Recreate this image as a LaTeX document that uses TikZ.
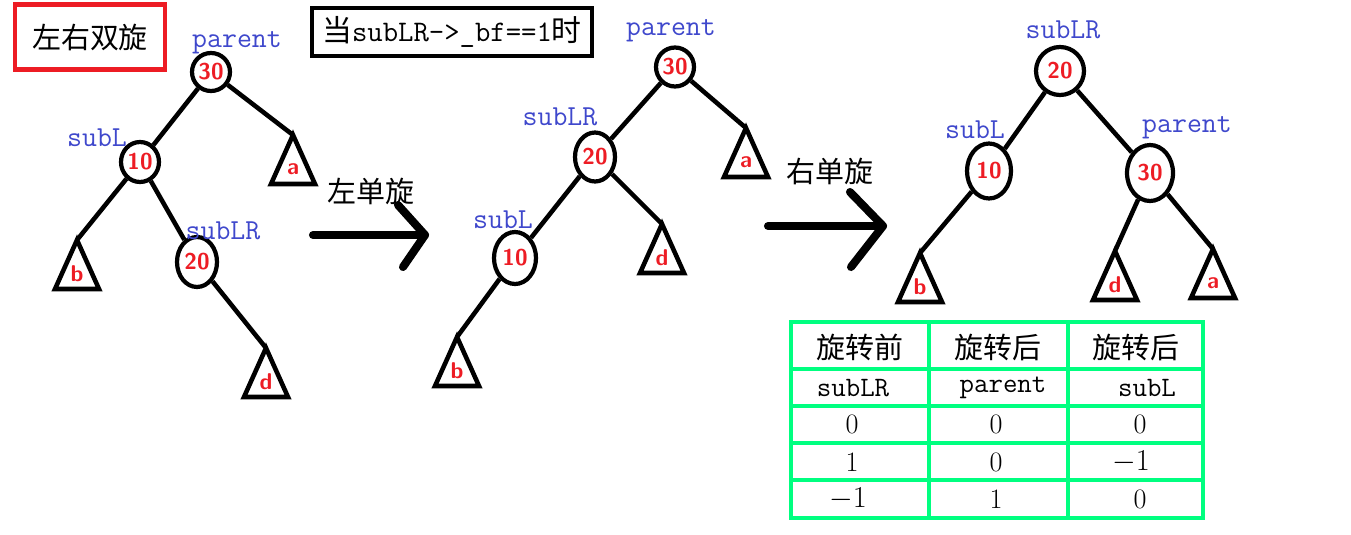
\documentclass[tikz,border=0pt]{standalone}
\usepackage{fontspec}
\newfontfamily\cjk{Noto Sans CJK SC}
\usetikzlibrary{shapes.geometric, calc}
\definecolor{mspred}{RGB}{237,28,36}
\definecolor{lblblue}{RGB}{63,72,204}
\definecolor{tabgreen}{RGB}{0,255,128}
\tikzset{
  treeline/.style={line width=2.6pt},
  tnode/.style={draw, ellipse, line width=2.4pt, inner sep=0pt},
  hand/.style={text=mspred, font=\sffamily\bfseries\fontsize{13}{13}\selectfont},
  role/.style={text=lblblue, font=\ttfamily\fontsize{16.5}{17}\selectfont},
  cn/.style={font=\cjk\fontsize{16.5}{18}\selectfont},
  bigarrow/.style={line width=4.6pt, line cap=round, line join=round},
  cell/.style={font=\fontsize{16}{17}\selectfont},
  tabline/.style={tabgreen, line width=2.4pt},
}
% subtree triangle: name, apex x, apex y, label
\newcommand{\subtr}[4]{%
  \coordinate (#1) at (#2,#3);
  \draw[treeline, line join=miter] (#1) -- ++(-22,49) -- ++(44,0) -- cycle;
  \node[hand] (#1l) at (#2,#3+34) {#4};
}

\begin{document}
\begin{tikzpicture}[x=0.02cm, y=-0.02cm]
\useasboundingbox (0,0) rectangle (1351,534);
\node[cn, draw=mspred, line width=2.4pt, minimum width=3cm, minimum height=1.3cm] (title) at (90,37) {左右双旋};
\node[draw, line width=2.8pt, minimum width=5.6cm, minimum height=0.96cm, font=\fontsize{17}{18}\selectfont] (cond) at (452,32) {{\cjk 当}\ttfamily subLR->\_bf==1{\cjk 时}};

% before
\node[tnode, hand, minimum width=0.76cm, minimum height=0.76cm] (p1) at (211,72) {30};
\node[tnode, hand, minimum width=0.76cm, minimum height=0.8cm] (l1) at (140,162) {10};
\node[tnode, hand, minimum width=0.8cm, minimum height=1cm] (lr1) at (197,262) {20};
\subtr{ta1}{293}{135}{a}
\subtr{tb1}{77}{240}{b}
\subtr{td1}{266}{348}{d}
\node[role] (np1) at (237,43) {parent};
\node[role] (nl1) at (97,138) {subL};
\node[role] (nlr1) at (223,231) {subLR};
\draw[treeline] (p1) -- (l1);
\draw[treeline] (p1) -- (ta1);
\draw[treeline] (l1) -- (tb1);
\draw[treeline] (l1) -- (lr1);
\draw[treeline] (lr1) -- (td1);

% left rotation
\coordinate (r1s) at (313,235);
\coordinate (r1e) at (425,235);
\draw[bigarrow] (r1s) -- (r1e);
\draw[bigarrow] ($(r1e)+(-27,-30)$) -- (r1e) -- ($(r1e)+(-22,32)$);
\node[cn] (rot1) at (371,191) {左单旋};

% after left rotation
\node[tnode, hand, minimum width=0.76cm, minimum height=0.78cm] (p2) at (675,67) {30};
\node[tnode, hand, minimum width=0.8cm, minimum height=0.98cm] (lr2) at (595,157) {20};
\node[tnode, hand, minimum width=0.84cm, minimum height=1.04cm] (l2) at (515,258) {10};
\subtr{ta2}{746}{128}{a}
\subtr{td2}{662}{224}{d}
\subtr{tb2}{457}{337}{b}
\node[role] (np2) at (671,31) {parent};
\node[role] (nlr2) at (560,117) {subLR};
\node[role] (nl2) at (503,220) {subL};
\draw[treeline] (p2) -- (lr2);
\draw[treeline] (p2) -- (ta2);
\draw[treeline] (lr2) -- (l2);
\draw[treeline] (lr2) -- (td2);
\draw[treeline] (l2) -- (tb2);

% right rotation
\coordinate (r2s) at (768,226);
\coordinate (r2e) at (883,226);
\draw[bigarrow] (r2s) -- (r2e);
\draw[bigarrow] ($(r2e)+(-33,-34)$) -- (r2e) -- ($(r2e)+(-32,41)$);
\node[cn] (rot2) at (830,171) {右单旋};

% after right rotation
\node[tnode, hand, minimum width=0.96cm, minimum height=0.96cm] (lr3) at (1060,71) {20};
\node[tnode, hand, minimum width=0.88cm, minimum height=1.1cm] (l3) at (989,171) {10};
\node[tnode, hand, minimum width=0.92cm, minimum height=1.12cm] (p3) at (1150,173) {30};
\subtr{tb3}{920}{253}{b}
\subtr{td3}{1115}{251}{d}
\subtr{ta3}{1213}{249}{a}
\node[role] (nlr3) at (1063,30) {subLR};
\node[role] (nl3) at (975,130) {subL};
\node[role] (np3) at (1187,128) {parent};
\draw[treeline] (lr3) -- (l3);
\draw[treeline] (lr3) -- (p3);
\draw[treeline] (l3) -- (tb3);
\draw[treeline] (p3) -- (td3);
\draw[treeline] (p3) -- (ta3);

% balance factor table
\draw[tabline] (791,322) rectangle (1203,518);
\foreach \yy in {369,406,443,480} \draw[tabline] (791,\yy) -- (1203,\yy);
\foreach \xx in {929,1068} \draw[tabline] (\xx,322) -- (\xx,518);
\node[cn] (h1) at (860,347) {旋转前};
\node[cn] (h2) at (998,347) {旋转后};
\node[cn] (h3) at (1136,347) {旋转后};
\node[cell, font=\ttfamily\fontsize{16}{17}\selectfont] (s1) at (853,388) {subLR};
\node[cell, font=\ttfamily\fontsize{16}{17}\selectfont] (s2) at (1003,388) {parent};
\node[cell, font=\ttfamily\fontsize{16}{17}\selectfont] (s3) at (1147,388) {subL};
\node[cell] (c11) at (852,424) {0};
\node[cell] (c12) at (996,424) {0};
\node[cell] (c13) at (1140,424) {0};
\node[cell] (c21) at (852,462) {1};
\node[cell] (c22) at (996,462) {0};
\node[cell] (c23) at (1131,462) {$-1$};
\node[cell] (c31) at (848,499) {$-1$};
\node[cell] (c32) at (996,499) {1};
\node[cell] (c33) at (1140,499) {0};
\end{tikzpicture}
\end{document}
